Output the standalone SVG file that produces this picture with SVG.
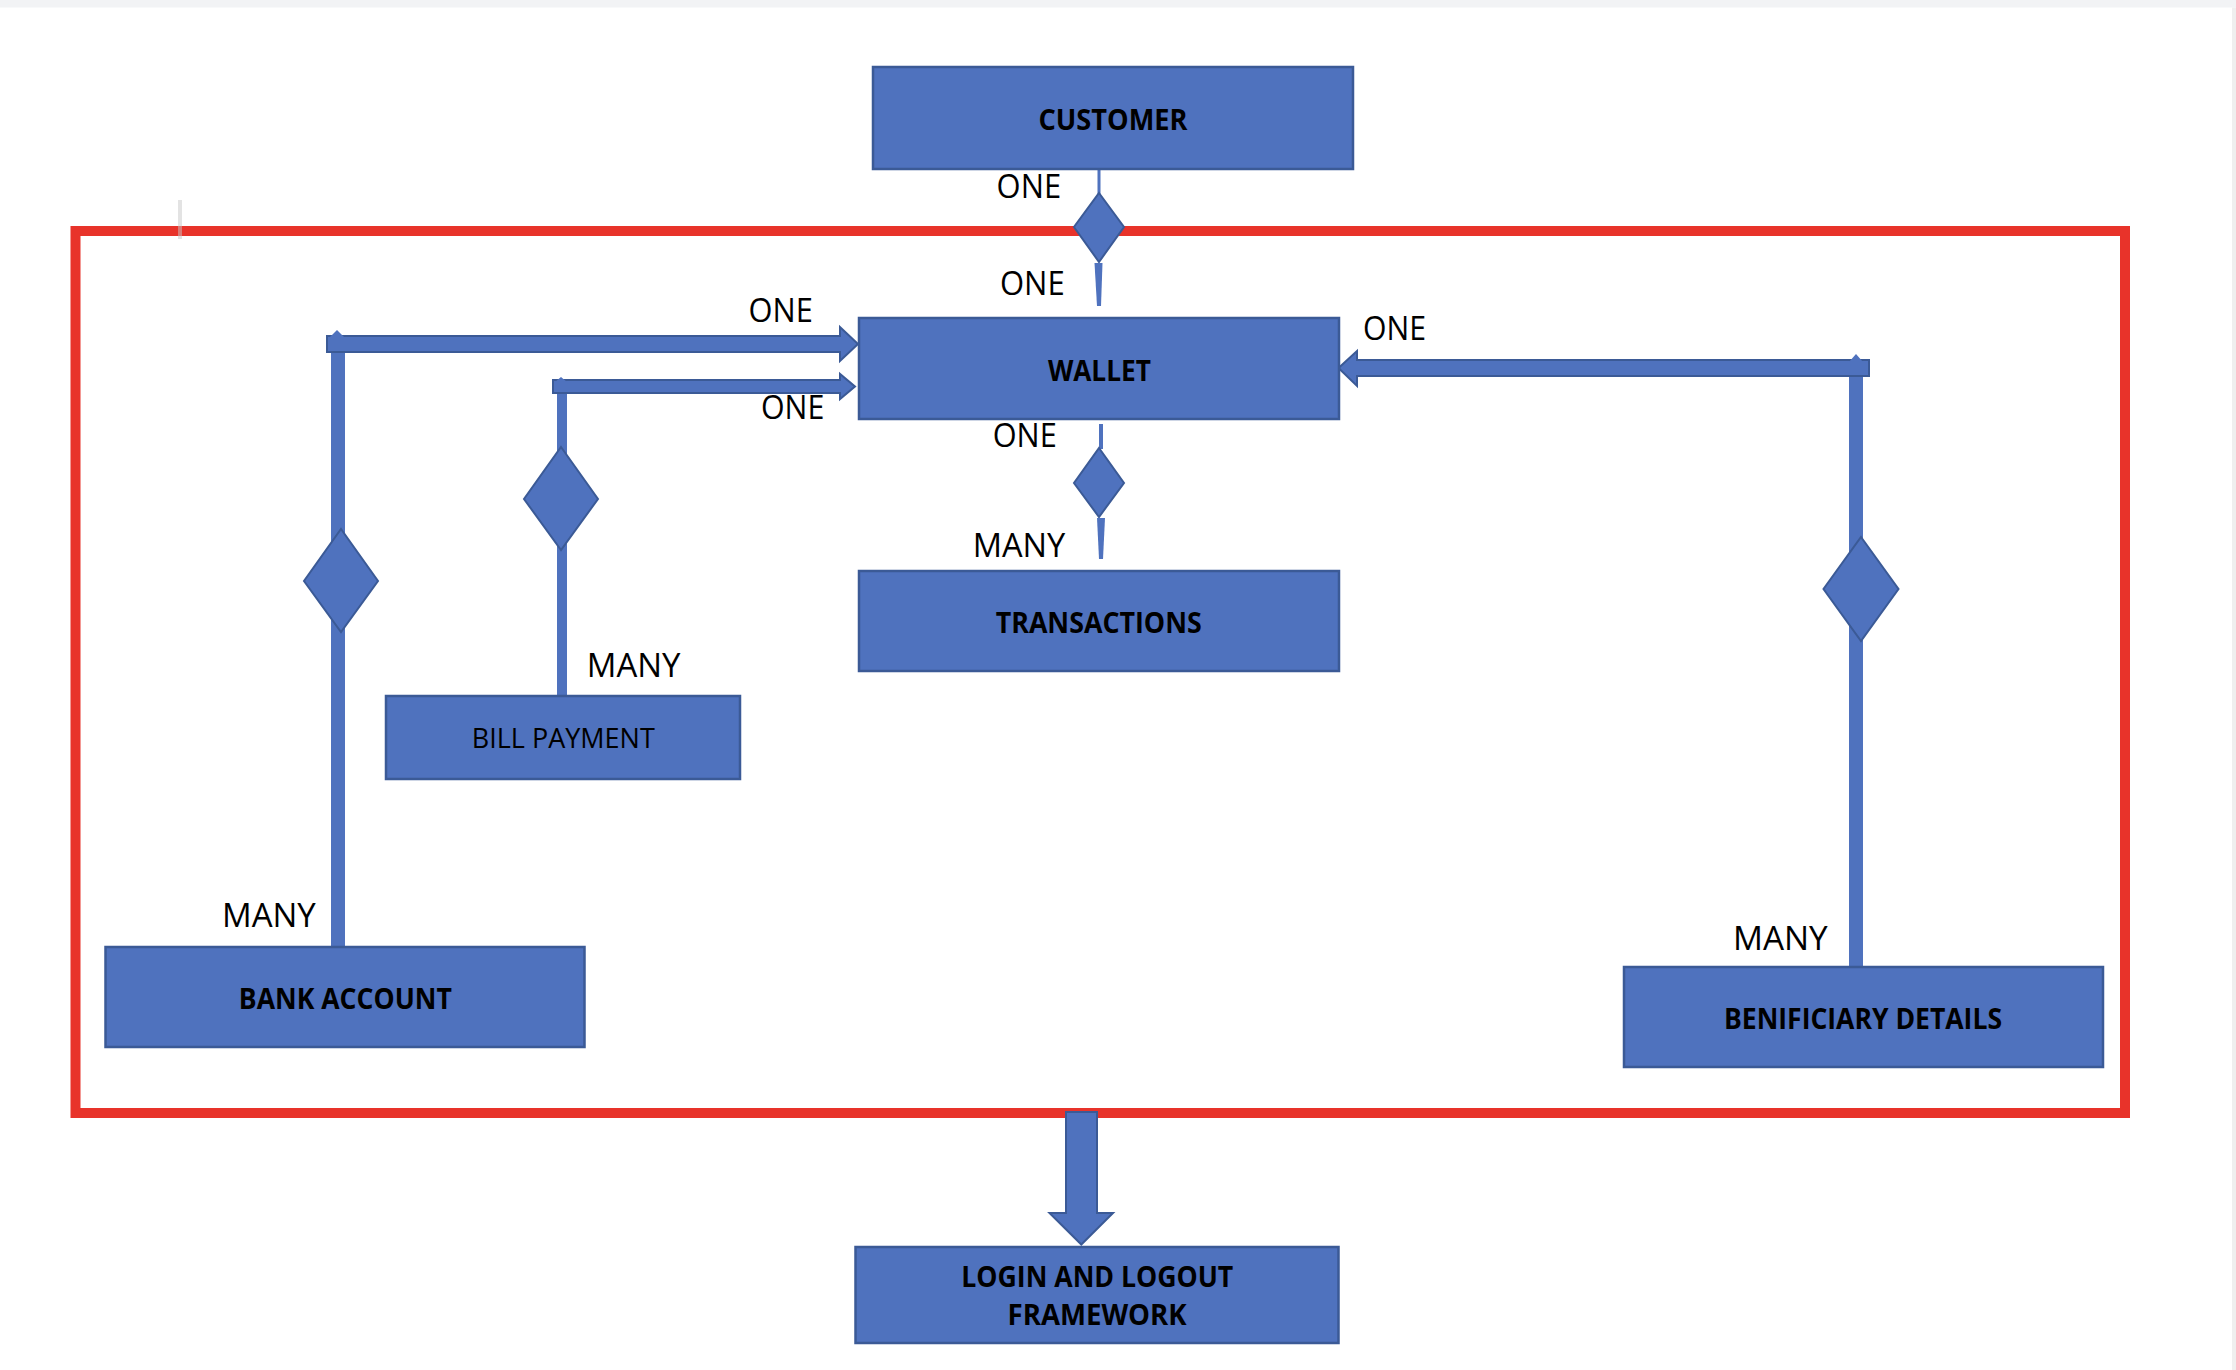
<svg xmlns="http://www.w3.org/2000/svg" width="2236" height="1370" viewBox="0 0 2236 1370">
<style>
.box{fill:#4F72BE;stroke:#3B5A96;stroke-width:2.5}
.conn{fill:#4F72BE;stroke:none}
.conn-s{fill:#4F72BE;stroke:#3B5A96;stroke-width:2}
.bl{font-family:"Open Sans","Liberation Sans",sans-serif;font-weight:bold;font-size:28px;fill:#000;text-anchor:middle}
.rl{font-family:"Open Sans","Liberation Sans",sans-serif;font-size:28px;fill:#000;text-anchor:middle}
.card{font-family:"Open Sans","Liberation Sans",sans-serif;font-size:32px;fill:#000}
</style>
<rect x="0" y="0" width="2236" height="1370" fill="#ffffff"/>
<rect x="0" y="0" width="2236" height="7.5" fill="#f2f3f5"/>
<rect x="2232" y="7.5" width="4" height="1362.5" fill="#efefef"/>
<g id="boundary">
<rect x="75.5" y="231" width="2049.5" height="882" fill="none" stroke="#E8332A" stroke-width="10"/>
<rect x="178" y="200" width="4" height="39" fill="#c8c8c8" opacity="0.5"/>
</g>
<g id="connectors">
<!-- customer - wallet -->
<rect class="conn" x="1097.5" y="168" width="3" height="26"/>
<polygon class="conn-s" points="1099,193 1124,227 1099,262 1074,227"/>
<polygon class="conn" points="1094.5,263 1102.5,263 1101,306 1097,306"/>
<!-- wallet - transactions -->
<rect class="conn" x="1099" y="424" width="4" height="25"/>
<polygon class="conn-s" points="1099,448 1124,483 1099,517 1074,483"/>
<polygon class="conn" points="1097,518 1105,518 1103,559 1099,559"/>
<!-- bank account - wallet -->
<rect class="conn" x="331" y="340" width="14" height="607"/>
<polygon class="conn-s" points="327,336 840,336 840,327 858,344 840,361 840,352 327,352"/>
<polygon class="conn" points="329,338 337,330 345,338"/>
<polygon class="conn-s" points="341,529 378,581 341,632 304,581"/>
<!-- bill payment - wallet -->
<rect class="conn" x="557" y="384" width="10" height="312"/>
<polygon class="conn-s" points="553,380 840,380 840,374 855,386.5 840,399 840,393 553,393"/>
<polygon class="conn" points="555,382 561,377 567,382"/>
<polygon class="conn-s" points="561,447 598,499 561,550 524,499"/>
<!-- beneficiary - wallet -->
<rect class="conn" x="1849" y="364" width="14" height="603"/>
<polygon class="conn-s" points="1869,360 1357,360 1357,351 1338.5,368 1357,386 1357,376 1869,376"/>
<polygon class="conn" points="1849,362 1856,354 1863,362"/>
<polygon class="conn-s" points="1861,537 1898.5,589 1861,641 1823.5,589"/>
<!-- boundary - login -->
<polygon class="conn-s" points="1066,1112 1097,1112 1097,1213 1113,1213 1081.3,1244.5 1049.5,1213 1066,1213"/>
</g>
<g id="labels">
<text class="card" x="996.6" y="198" textLength="64.5" lengthAdjust="spacingAndGlyphs">ONE</text>
<text class="card" x="1000" y="295" textLength="64.7" lengthAdjust="spacingAndGlyphs">ONE</text>
<text class="card" x="992.7" y="447" textLength="64" lengthAdjust="spacingAndGlyphs">ONE</text>
<text class="card" x="972.7" y="557" textLength="92.6" lengthAdjust="spacingAndGlyphs">MANY</text>
<text class="card" x="1363" y="340" textLength="63" lengthAdjust="spacingAndGlyphs">ONE</text>
<text class="card" x="748.5" y="322" textLength="64.3" lengthAdjust="spacingAndGlyphs">ONE</text>
<text class="card" x="761" y="419" textLength="63.3" lengthAdjust="spacingAndGlyphs">ONE</text>
<text class="card" x="586.8" y="677" textLength="93.7" lengthAdjust="spacingAndGlyphs">MANY</text>
<text class="card" x="222" y="927" textLength="93.8" lengthAdjust="spacingAndGlyphs">MANY</text>
<text class="card" x="1733" y="950" textLength="94.7" lengthAdjust="spacingAndGlyphs">MANY</text>
</g>
<g id="customer">
<rect class="box" x="873" y="67" width="480" height="102"/>
<text class="bl" x="1113" y="130" textLength="149" lengthAdjust="spacingAndGlyphs">CUSTOMER</text>
</g>
<g id="wallet">
<rect class="box" x="859" y="318" width="480" height="101"/>
<text class="bl" x="1099.4" y="381" textLength="103" lengthAdjust="spacingAndGlyphs">WALLET</text>
</g>
<g id="transactions">
<rect class="box" x="859" y="571" width="480" height="100"/>
<text class="bl" x="1098.7" y="633" textLength="206" lengthAdjust="spacingAndGlyphs">TRANSACTIONS</text>
</g>
<g id="bill-payment">
<rect class="box" x="386" y="696" width="354" height="83"/>
<text class="rl" x="563.3" y="748" textLength="183" lengthAdjust="spacingAndGlyphs">BILL PAYMENT</text>
</g>
<g id="bank-account">
<rect class="box" x="105.5" y="947" width="479" height="100"/>
<text class="bl" x="345.3" y="1009" textLength="213" lengthAdjust="spacingAndGlyphs">BANK ACCOUNT</text>
</g>
<g id="beneficiary-details">
<rect class="box" x="1624" y="967" width="479" height="100"/>
<text class="bl" x="1863" y="1029" textLength="278" lengthAdjust="spacingAndGlyphs">BENIFICIARY DETAILS</text>
</g>
<g id="login-logout">
<rect class="box" x="855.5" y="1247" width="483" height="96"/>
<text class="bl" x="1097.3" y="1287" textLength="272" lengthAdjust="spacingAndGlyphs">LOGIN AND LOGOUT</text>
<text class="bl" x="1097.1" y="1325" textLength="179" lengthAdjust="spacingAndGlyphs">FRAMEWORK</text>
</g>
</svg>
